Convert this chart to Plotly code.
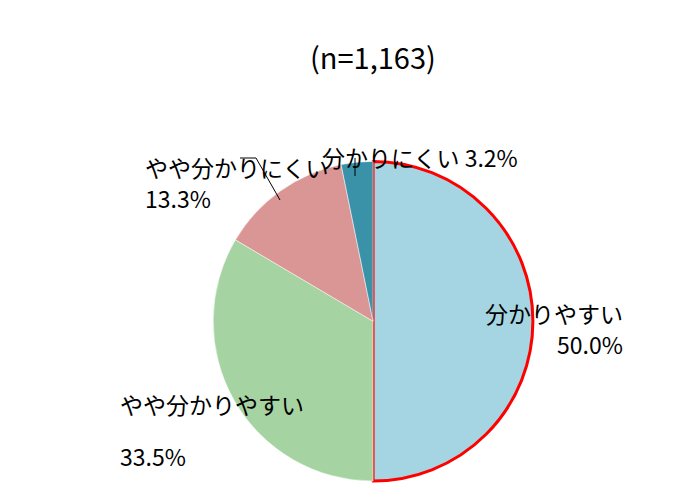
import plotly.graph_objects as go

labels = ["分かりやすい", "やや分かりやすい", "やや分かりにくい", "分かりにくい"]
values = [50.0, 33.5, 13.3, 3.2]
colors = ["#A5D5E2", "#A6D3A2", "#DA9694", "#3A92A8"]

fig = go.Figure(go.Pie(
    labels=labels, values=values, sort=False, direction="clockwise", rotation=0,
    marker=dict(colors=colors, line=dict(color=["#FF0000", "white", "white", "white"],
                                         width=[3, 0.5, 0.5, 0.5])),
    textinfo="none", hoverinfo="label+percent", showlegend=False,
    domain=dict(x=[0.293, 0.75], y=[0.05, 0.692]),
))

font = dict(family="Noto Sans CJK JP", size=23, color="black")
ann = [
    (365, 25, "(n=1,163)", 29),
    (617, 305, "分かりやすい", 23),
    (617, 355, "50.0%", 23),
    (110, 415, "やや分かりやすい", 23),
    (110, 467, "33.5%", 23),
    (135, 140, "やや分かりにくい", 23),
    (135, 190, "13.3%", 23),
    (412, 130, "分かりにくい 3.2%", 23),
]
for x, y, t, s in ann:
    fig.add_annotation(x=x / 700, y=1 - y / 498, xref="paper", yref="paper",
                       text=t, showarrow=False, font=dict(font, size=s))

# leader lines
for x0, y0, x1, y1 in [(232, 150, 248, 150), (248, 150, 272, 192), (347, 150, 347, 168)]:
    fig.add_shape(type="line", xref="paper", yref="paper",
                  x0=x0 / 700, y0=1 - y0 / 498, x1=x1 / 700, y1=1 - y1 / 498,
                  line=dict(color="black", width=1))

fig.update_layout(width=700, height=498,
                  margin=dict(l=0, r=0, t=0, b=0, autoexpand=False),
                  paper_bgcolor="white", font=font)
fig.write_html("out.html")
